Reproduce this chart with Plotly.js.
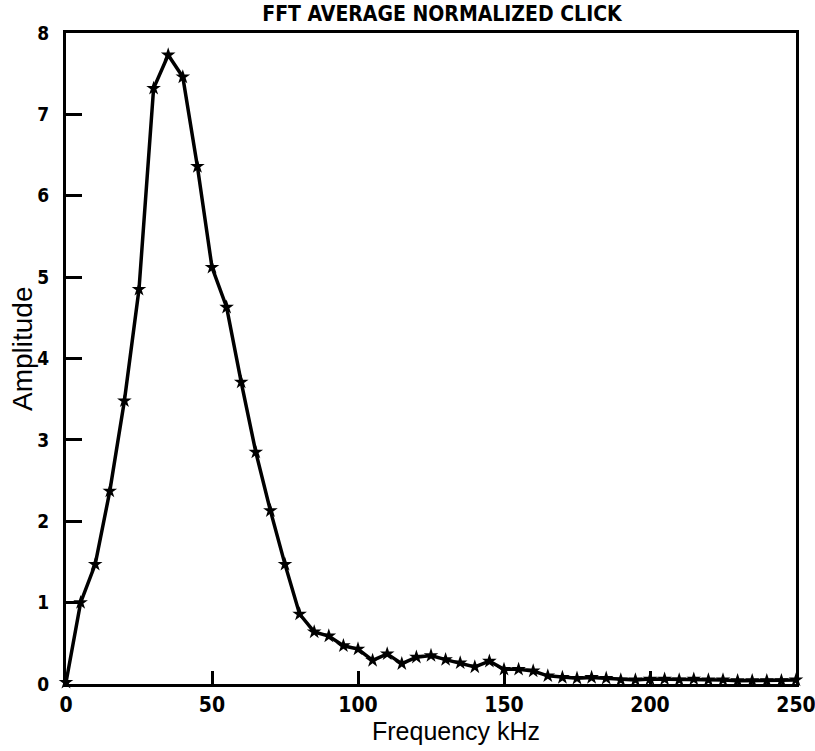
<!DOCTYPE html>
<html>
<head>
<meta charset="utf-8">
<script src="https://cdn.plot.ly/plotly-3.0.1.min.js"></script>
<style>html,body{margin:0;padding:0;background:#fff;}#chart{width:815px;height:751px;}</style>
</head>
<body>
<div id="chart"></div>
<script>
const frequencyKHz = [0,5,10,15,20,25,30,35,40,45,50,55,60,65,70,75,80,85,90,95,100,105,110,115,120,125,130,135,140,145,150,155,160,165,170,175,180,185,190,195,200,205,210,215,220,225,230,235,240,245,250];
const amplitude = [0.02,1.0,1.47,2.37,3.48,4.85,7.32,7.73,7.46,6.36,5.12,4.63,3.71,2.85,2.13,1.47,0.86,0.64,0.59,0.47,0.43,0.29,0.37,0.25,0.33,0.35,0.30,0.26,0.21,0.28,0.18,0.18,0.16,0.10,0.08,0.07,0.08,0.07,0.05,0.05,0.06,0.06,0.05,0.06,0.05,0.05,0.04,0.04,0.04,0.04,0.05];
const xTicks = [0,50,100,150,200,250];
const yTicks = [0,1,2,3,4,5,6,7,8];
const chartTitle = 'FFT AVERAGE NORMALIZED CLICK';
const xLabel = 'Frequency kHz';
const yLabel = 'Amplitude';

const narrowBold = 'DejaVu Sans Condensed, DejaVu Sans, sans-serif';

Plotly.newPlot('chart', [{
  x: frequencyKHz, y: amplitude, type: 'scatter', mode: 'lines+markers',
  line: {color: '#000', width: 3.5},
  marker: {symbol: 'star', size: 11, color: '#000'},
  cliponaxis: false
}], {
  width: 815, height: 751,
  margin: {l: 66, r: 19, t: 33, b: 67},
  paper_bgcolor: '#fff', plot_bgcolor: '#fff',
  showlegend: false,
  title: {text: chartTitle, font: {family: 'DejaVu Sans Condensed, DejaVu Sans', size: 21, color: '#000', weight: 'bold'},
          x: 442/815, xanchor: 'center', xref: 'container', y: 1 - 14/751, yref: 'container', yanchor: 'middle'},
  xaxis: {range: [0, 250], tickmode: 'array', tickvals: xTicks, ticktext: xTicks.map(String), ticks: 'inside', ticklen: 13, tickwidth: 3, tickcolor: '#000',
          showline: true, linecolor: '#000', linewidth: 3, mirror: true, showgrid: false, zeroline: false, ticklabeloverflow: 'allow',
          tickfont: {family: narrowBold, size: 21, color: '#000', weight: 'bold'}},
  yaxis: {range: [0, 8], tickmode: 'array', tickvals: yTicks, ticktext: yTicks.map(String), ticks: 'inside', ticklen: 16, tickwidth: 3, tickcolor: '#000',
          showline: true, linecolor: '#000', linewidth: 3, mirror: true, showgrid: false, zeroline: false,
          tickfont: {family: narrowBold, size: 19, color: '#000', weight: 'bold'}, ticklabelstandoff: 10},
  annotations: [
    {text: xLabel, xref: 'paper', yref: 'paper', x: (456-66)/730, y: -(731-684)/651, xanchor: 'center', yanchor: 'middle', showarrow: false,
     font: {family: 'Liberation Sans', size: 25, color: '#000'}},
    {text: yLabel, xref: 'paper', yref: 'paper', x: (22-66)/730, y: (684-349)/651, xanchor: 'center', yanchor: 'middle', textangle: -90, showarrow: false,
     font: {family: 'Liberation Sans', size: 28, color: '#000'}}
  ]
}, {displayModeBar: false, staticPlot: true});
</script>
</body>
</html>
